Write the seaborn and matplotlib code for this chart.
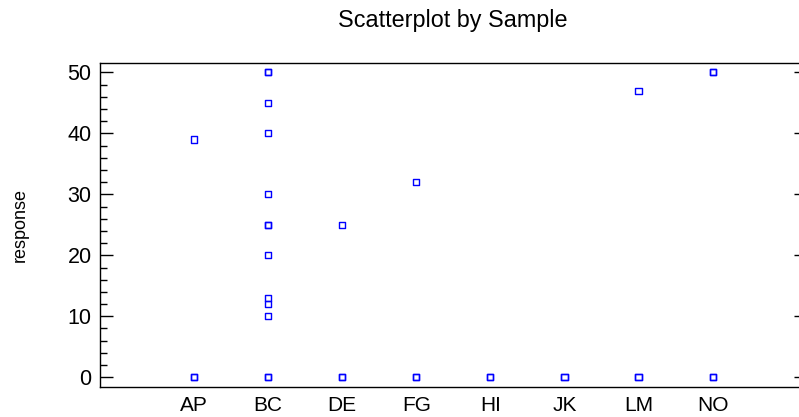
import numpy as np
import pandas as pd
import matplotlib
matplotlib.use("Agg")
import matplotlib.pyplot as plt
import seaborn as sns
from matplotlib.ticker import MultipleLocator

# Observations per sample (repeated values are separate observations)
samples = ["AP", "BC", "DE", "FG", "HI", "JK", "LM", "NO"]
ap = [39, 0, 0]
bc = [50, 50, 45, 40, 30, 25, 25, 20, 13, 12, 10, 0, 0]
de = [25, 0, 0]
fg = [32, 0, 0]
hi = [0, 0]
jk = [0, 0]
lm = [47, 0, 0]
no = [50, 50, 0, 0]

groups = [ap, bc, de, fg, hi, jk, lm, no]
df = pd.DataFrame({
    "Sample": np.repeat(samples, [len(g) for g in groups]),
    "response": np.concatenate(groups),
})

sns.set_theme(style="white")
plt.rcParams["font.family"] = ["Liberation Sans", "DejaVu Sans"]

W, H = 799, 417
fig = plt.figure(figsize=(W / 100, H / 100), dpi=100)
ax = fig.add_axes([100 / W, (H - 386.7) / H, 700 / W, (386.7 - 63.3) / H])

sns.stripplot(data=df, x="Sample", y="response", order=samples, jitter=False,
              marker="s", size=4.4, linewidth=1.0, ax=ax, native_scale=False)
for coll in ax.collections:
    coll.set_facecolor("none")
    coll.set_edgecolor("#0000ff")
    coll.set_linewidth(1.0)

ax.set_xlim(-1.27, 8.18)
ax.set_ylim(-1.55, 51.5)

for side in ["left", "top", "bottom"]:
    ax.spines[side].set_visible(True)
    ax.spines[side].set_color("black")
    ax.spines[side].set_linewidth(1.0)
ax.spines["right"].set_visible(False)

ax.yaxis.set_major_locator(MultipleLocator(10))
ax.yaxis.set_minor_locator(MultipleLocator(2))
ax.tick_params(axis="y", which="major", direction="in", length=9.5, width=1.0,
               color="black", left=True, right=True, labelsize=15.5, pad=6,
               labelcolor="black")
ax.tick_params(axis="y", which="minor", direction="in", length=5, width=1.0,
               color="black", left=True, right=False)
for t in ax.yaxis.get_major_ticks():
    t.tick2line.set_markersize(4.5)
ax.tick_params(axis="x", which="both", bottom=False, top=False, labelsize=15,
               pad=0.5, labelcolor="black")

ax.set_xlabel("")
ax.set_ylabel("response", fontsize=13, labelpad=28, color="black")
fig.text(453 / W, 1 - 20 / H, "Scatterplot by Sample", ha="center", va="center",
         fontsize=16.8, color="black")

fig.savefig("out.png", dpi=100, facecolor="white")
